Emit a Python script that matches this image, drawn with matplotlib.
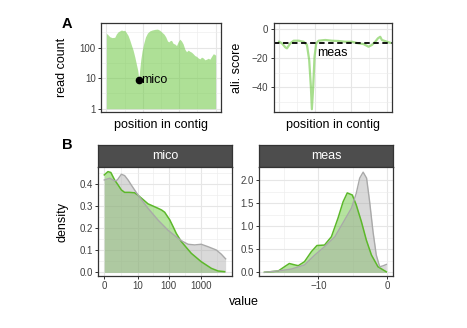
import matplotlib
matplotlib.use("Agg")
import matplotlib.pyplot as plt
import numpy as np

plt.rcParams["font.family"] = ["Liberation Sans", "DejaVu Sans"]

W, H = 467, 328

# A, left: read coverage along the contig
cov_pos = [0, 46, 92, 156, 229, 275, 321, 367, 413, 459, 504, 550, 596, 642,
           688, 734, 780, 826, 862, 890, 917, 944, 981, 1027, 1073, 1128, 1192,
           1256, 1330, 1403, 1467, 1531, 1586, 1632, 1678, 1715, 1751, 1788,
           1834, 1880, 1926, 1972, 2017, 2063, 2109, 2155, 2201, 2247, 2293,
           2339, 2385, 2430, 2476, 2522, 2568, 2614, 2660, 2706, 2752, 2797,
           2843, 2889, 2935, 2981, 3000]
cov_count = [295, 263, 229, 214, 219, 282, 331, 355, 380, 363, 372, 309, 251,
             178, 120, 83, 50, 28, 18, 9.5, 20, 40, 79, 141, 224, 302, 355,
             380, 398, 407, 372, 316, 275, 224, 166, 155, 170, 174, 138, 132,
             117, 158, 190, 166, 132, 89, 74, 83, 76, 71, 63, 55, 52, 46, 43,
             49, 46, 40, 42, 45, 42, 52, 63, 60, 56]
mico_pos, mico_count = 890, 9

# A, right: alignment score along the contig
score_pos = [0, 81, 174, 220, 313, 406, 546, 685, 778, 840, 887, 915, 952,
             989, 1036, 1101, 1287, 1473, 1659, 1845, 2031, 2217, 2357, 2496,
             2589, 2682, 2756, 2821, 2868, 3008, 3100]
score_val = [-8.9, -10, -12.7, -13.4, -10, -8.2, -8.2, -8.9, -11.1, -21.4,
             -39.6, -55, -39.6, -19.1, -10, -8.2, -7.7, -8.2, -8.4, -8.9, -8.9,
             -10, -10.5, -12.3, -11.1, -8.9, -6.6, -5.5, -7.7, -8.9, -9.6]
meas_cut = -10
meas_label_pos, meas_label_val = 1050, -16.5

# B: value densities, highlighted set vs. all
mico_hit_x = [0, 0.3, 0.6, 1.1, 1.7, 2.4, 3.3, 5, 7.8, 10, 15, 22, 32, 46, 60,
              75, 90, 108, 140, 174, 250, 512, 1046, 2160, 3500, 5600]
mico_hit_y = [0.441, 0.456, 0.452, 0.418, 0.395, 0.373, 0.362, 0.362, 0.360,
              0.350, 0.33, 0.31, 0.300, 0.290, 0.282, 0.272, 0.255, 0.238,
              0.205, 0.176, 0.139, 0.086, 0.048, 0.018, 0.006, 0.003]
mico_all_x = [0, 0.47, 1.1, 1.55, 2.4, 3.3, 4.5, 5.95, 10.2, 22, 46, 95, 197,
              281, 406, 652, 1046, 1700, 3090, 4420, 6020]
mico_all_y = [0.418, 0.426, 0.414, 0.418, 0.444, 0.438, 0.418, 0.395, 0.350,
              0.290, 0.237, 0.191, 0.154, 0.139, 0.127, 0.124, 0.127, 0.116,
              0.101, 0.082, 0.061]

meas_hit_x = [-17.8, -15.8, -14.9, -14.2, -13.4, -12.9, -12.0, -11.0, -10.2,
              -9.1, -8.1, -7.15, -6.4, -5.8, -5.07, -4.5, -3.76, -3.04, -2.3,
              -1.35, -0.14]
meas_hit_y = [0.0, 0.028, 0.12, 0.19, 0.16, 0.143, 0.23, 0.447, 0.58, 0.59,
              0.77, 1.17, 1.53, 1.72, 1.675, 1.46, 1.1, 0.7, 0.375, 0.12, 0.01]
meas_all_x = [-17.8, -15.8, -13.9, -12.0, -10.5, -9.1, -7.6, -6.2, -5.2, -4.5,
              -4.0, -3.5, -3.0, -2.56, -2.07, -1.6, -1.1, -0.62, -0.14]
meas_all_y = [0.0, 0.03, 0.07, 0.16, 0.375, 0.555, 0.77, 1.13, 1.39, 1.71,
              2.04, 2.17, 2.04, 1.53, 0.88, 0.375, 0.12, 0.14, 0.17]

GREEN = "#6cc841"
GREEN_LINE = "#5cb82a"
GREY = "#a6a6a6"
GREY_LINE = "#a9a9a9"
INK = "#333333"

fig = plt.figure(figsize=(W / 100, H / 100), dpi=100)


def px_axes(x0, y0, x1, y1):
    return fig.add_axes([x0 / W, 1 - y1 / H, (x1 - x0) / W, (y1 - y0) / H])


def style(ax):
    for s in ax.spines.values():
        s.set_color(INK)
        s.set_linewidth(0.9)
    ax.set_axisbelow(True)
    ax.grid(True, which="major", color="#e6e6e6", lw=0.8)
    ax.grid(True, which="minor", color="#ededed", lw=0.45)
    ax.tick_params(which="major", length=2.5, width=0.7, color=INK,
                   labelsize=7, labelcolor="#404040", pad=1.5)
    ax.tick_params(which="minor", length=0)


def strip(x0, y0, x1, y1, label):
    s = px_axes(x0, y0, x1, y1)
    s.set_facecolor("#4d4d4d")
    s.set_xticks([])
    s.set_yticks([])
    for sp in s.spines.values():
        sp.set_color(INK)
        sp.set_linewidth(0.9)
    s.text(0.5, 0.5, label, color="white", fontsize=9,
           ha="center", va="center", transform=s.transAxes)


# panel A, coverage
ax1 = px_axes(101.3, 23.3, 220.7, 112)
style(ax1)
ax1.set_yscale("log")
ax1.fill_between(cov_pos, 1, cov_count, color=GREEN, alpha=0.55, lw=0)
ax1.plot([mico_pos], [mico_count], "o", color="black", ms=4.5)
ax1.annotate("mico", (mico_pos, mico_count), xytext=(2, 0),
             textcoords="offset points", ha="left", va="center", fontsize=9)
ax1.set_xlim(-140, 3140)
ax1.set_ylim(0.78, 630)
ax1.set_xticks([0, 1000, 2000, 3000])
ax1.set_xticks([500, 1500, 2500], minor=True)
ax1.set_yticks([1, 10, 100])
ax1.set_yticklabels(["1", "10", "100"])
ax1.set_yticks([10 ** 0.5, 10 ** 1.5, 10 ** 2.5], minor=True)
ax1.yaxis.set_minor_formatter(plt.NullFormatter())
ax1.tick_params(axis="x", length=0, labelbottom=False)
ax1.set_xlabel("position in contig", fontsize=9)
ax1.xaxis.set_label_coords(0.5, -0.15)
ax1.xaxis.label.set_va("center")
ax1.set_ylabel("read count", fontsize=9)
ax1.yaxis.set_label_coords(-0.28, 0.5)

# panel A, alignment score
ax2 = px_axes(273.7, 23.3, 392, 112)
style(ax2)
ax2.plot(score_pos, score_val, color=GREEN, alpha=0.6, lw=1.6,
         solid_joinstyle="round")
ax2.axhline(meas_cut, color="black", lw=1.3, ls=(0, (3, 2)))
ax2.text(meas_label_pos, meas_label_val, "meas", fontsize=9,
         ha="left", va="center")
ax2.set_xlim(-150, 3150)
ax2.set_ylim(-56.9, 3.7)
ax2.set_xticks([0, 1000, 2000, 3000])
ax2.set_xticks([500, 1500, 2500], minor=True)
ax2.set_yticks([0, -20, -40])
ax2.set_yticklabels(["0", "\u221220", "\u221240"])
ax2.set_yticks([-10, -30, -50], minor=True)
ax2.tick_params(axis="x", length=0, labelbottom=False)
ax2.set_xlabel("position in contig", fontsize=9)
ax2.xaxis.set_label_coords(0.5, -0.15)
ax2.xaxis.label.set_va("center")
ax2.set_ylabel("ali. score", fontsize=9)
ax2.yaxis.set_label_coords(-0.26, 0.5)


# panel B, mico densities on a log10(x + 1) axis
def fwd(x):
    return np.log10(np.maximum(np.asarray(x, dtype=float), -0.99) + 1)


def inv(t):
    return 10 ** np.asarray(t, dtype=float) - 1


strip(98.3, 145, 231.7, 167.3, "mico")
ax3 = px_axes(98.3, 167.3, 231.7, 275.7)
style(ax3)
ax3.set_xscale("function", functions=(fwd, inv))
ax3.fill_between(mico_hit_x, 0, mico_hit_y, color=GREEN, alpha=0.5, lw=0)
ax3.plot(mico_hit_x, mico_hit_y, color=GREEN_LINE, lw=1.1)
ax3.fill_between(mico_all_x, 0, mico_all_y, color=GREY, alpha=0.42, lw=0)
ax3.plot(mico_all_x, mico_all_y, color=GREY_LINE, lw=1.0)
ax3.set_xlim(inv(-0.187), inv(3.969))
ax3.set_ylim(-0.0154, 0.4755)
ax3.set_xticks([0, 10, 100, 1000])
ax3.set_xticklabels(["0", "10", "100", "1000"])
ax3.set_xticks(inv([0.52, 1.52, 2.5, 3.5]), minor=True)
ax3.xaxis.set_minor_formatter(plt.NullFormatter())
ax3.set_yticks([0, 0.1, 0.2, 0.3, 0.4])
ax3.set_yticklabels(["0.0", "0.1", "0.2", "0.3", "0.4"])
ax3.set_yticks([0.05, 0.15, 0.25, 0.35, 0.45], minor=True)
ax3.set_ylabel("density", fontsize=9)
ax3.yaxis.set_label_coords(-0.225, 0.5)

# panel B, meas densities
strip(259.3, 145, 393.3, 167.3, "meas")
ax4 = px_axes(259.3, 167.3, 393.3, 275.7)
style(ax4)
ax4.fill_between(meas_hit_x, 0, meas_hit_y, color=GREEN, alpha=0.5, lw=0)
ax4.plot(meas_hit_x, meas_hit_y, color=GREEN_LINE, lw=1.1)
ax4.fill_between(meas_all_x, 0, meas_all_y, color=GREY, alpha=0.42, lw=0)
ax4.plot(meas_all_x, meas_all_y, color=GREY_LINE, lw=1.0)
ax4.set_xlim(-18.55, 0.87)
ax4.set_ylim(-0.074, 2.275)
ax4.set_xticks([-10, 0])
ax4.set_xticklabels(["\u221210", "0"])
ax4.set_xticks([-15, -5], minor=True)
ax4.set_yticks([0, 0.5, 1.0, 1.5, 2.0])
ax4.set_yticklabels(["0.0", "0.5", "1.0", "1.5", "2.0"])
ax4.set_yticks([0.25, 0.75, 1.25, 1.75], minor=True)

fig.text(243.5 / W, 1 - 302 / H, "value", fontsize=9, ha="center", va="center")
fig.text(62 / W, 1 - 24 / H, "A", fontsize=10.5, fontweight="bold",
         ha="left", va="center")
fig.text(62 / W, 1 - 145 / H, "B", fontsize=10.5, fontweight="bold",
         ha="left", va="center")

fig.savefig("out.png", dpi=100)
